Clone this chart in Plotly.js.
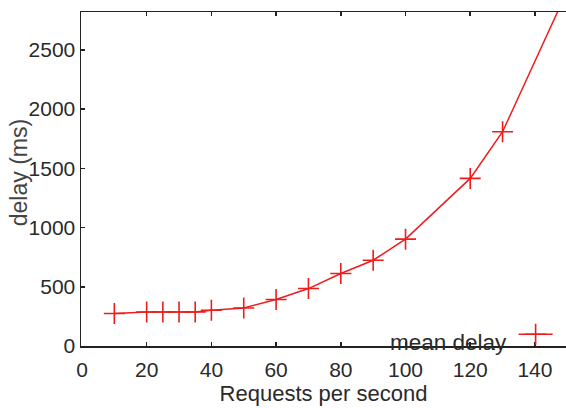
<!DOCTYPE html>
<html>
<head>
<meta charset="utf-8">
<script src="https://cdn.plot.ly/plotly-3.0.1.min.js"></script>
<style>html,body{margin:0;padding:0;background:#fff;overflow:hidden}</style>
</head>
<body>
<div id="chart" style="width:566px;height:408px"></div>
<script>
var requestsPerSecond = [10, 20, 25, 30, 35, 40, 50, 60, 70, 80, 90, 100, 120, 130, 150];
var meanDelayMs = [274, 287, 287, 287, 287, 302, 321, 392, 485, 612, 724, 902, 1415, 1809, 3000];
var seriesName = 'mean delay';
var xTicks = [0, 20, 40, 60, 80, 100, 120, 140];
var yTicks = [0, 500, 1000, 1500, 2000, 2500];
var xTitle = 'Requests per second';
var yTitle = 'delay (ms)';

var FONT = '"Liberation Sans", Arial, sans-serif';
var TXT = '#2a2a2a';

var trace = {
  x: requestsPerSecond,
  y: meanDelayMs,
  name: ' ',
  mode: 'lines+markers',
  line: {color: '#ee1c1c', width: 1.5},
  marker: {symbol: 'cross-thin', size: 15, line: {color: '#ee1c1c', width: 1.6}, color: '#ee1c1c'},
  showlegend: true
};

var layout = {
  width: 566, height: 408,
  margin: {l: 81, r: 0, t: 12, b: 62, pad: 0},
  paper_bgcolor: '#fff', plot_bgcolor: '#fff',
  font: {family: FONT, color: TXT, size: 21},
  showlegend: true,
  legend: {x: 0.892, xanchor: 'left', y: 0.035, yanchor: 'middle', bgcolor: 'rgba(0,0,0,0)',
           borderwidth: 0, font: {size: 2}, itemwidth: 34, tracegroupgap: 0},
  xaxis: {
    range: [-0.3, 149.6], tickvals: xTicks, ticktext: xTicks.map(String),
    ticks: 'inside', ticklen: 4, tickwidth: 1.5, tickcolor: '#222',
    showline: true, linecolor: '#222', linewidth: 1.5, mirror: 'ticks',
    showgrid: false, zeroline: false, ticklabelstandoff: 4,
    tickfont: {size: 21, family: FONT, color: TXT},
    title: {text: xTitle, font: {size: 22, family: FONT, color: TXT}, standoff: 2},
    automargin: false
  },
  yaxis: {
    range: [0, 2820], tickvals: yTicks, ticktext: yTicks.map(String),
    ticks: 'inside', ticklen: 4, tickwidth: 1.5, tickcolor: '#222',
    showline: true, linecolor: '#222', linewidth: 1.5, mirror: false,
    showgrid: false, zeroline: false,
    tickfont: {size: 21, family: FONT, color: TXT},
    automargin: false
  },
  annotations: [
    {text: yTitle, textangle: -90, xref: 'paper', yref: 'paper', x: -0.128, y: 0.52,
     xanchor: 'center', yanchor: 'middle', showarrow: false,
     font: {size: 23, family: FONT, color: '#444'}},
    {text: seriesName, xref: 'paper', yref: 'paper', x: 0.8825, y: 0.011,
     xanchor: 'right', yanchor: 'middle', showarrow: false,
     font: {size: 22.5, family: FONT, color: TXT}}
  ]
};

Plotly.newPlot('chart', [trace], layout, {displayModeBar: false, staticPlot: true});
</script>
</body>
</html>
